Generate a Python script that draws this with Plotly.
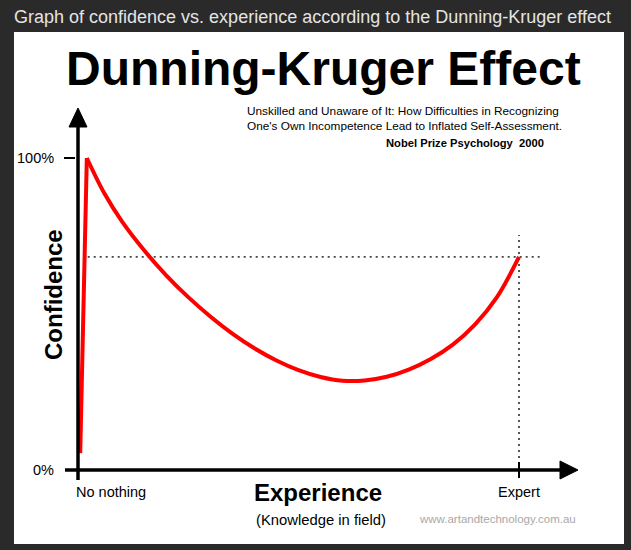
import plotly.graph_objects as go

# ---- data (experience in % of the way to expert, confidence in %) ----
rise_x = [0.5, 2.0]
rise_y = [5.4, 100.0]
curve_x = [2, 6, 10, 15, 20, 25, 30, 35, 40, 45, 50, 55, 60, 65, 70, 75, 80, 85, 90, 95, 100]
curve_y = [100.0, 88.6, 79.6, 70.4, 62.4, 55.4, 49.2, 43.7, 39.0, 35.1, 32.0, 29.8, 28.6,
           28.7, 29.9, 32.2, 35.6, 40.2, 46.6, 55.4, 68.3]
expert_level = 68.3
y_tick_vals = [0, 100]
y_tick_text = ["0%", "100%"]
x_tick_vals = [0, 100]
x_tick_text = ["No nothing", "Expert"]

FONT = "Liberation Sans, Arial, Helvetica, sans-serif"
W, H = 631, 550
ML, MR, MT, MB = 14, 7, 32, 6
PW, PH = W - ML - MR, H - MT - MB
# pixel mapping: x=0 -> px 78, x=100 -> px 519 ; y=0 -> px 470, y=100 -> px 158
XS = (519 - 78) / 100.0
YS = (470 - 158) / 100.0
x0 = -(78 - ML) / XS
x1 = x0 + PW / XS
y0 = -(H - MB - 470) / YS
y1 = y0 + PH / YS

def dx(px):  # pixel offset -> data x
    return px / XS

def dy(px):
    return px / YS

fig = go.Figure()

fig.add_trace(go.Scatter(x=rise_x, y=rise_y, mode="lines",
                         line=dict(color="#ff0000", width=4), hoverinfo="skip"))
fig.add_trace(go.Scatter(x=curve_x, y=curve_y, mode="lines",
                         line=dict(color="#ff0000", width=4, shape="spline", smoothing=1.0),
                         hoverinfo="skip"))

shapes = []
# dotted guides
shapes.append(dict(type="line", x0=2.2, x1=100 + dx(21), y0=expert_level, y1=expert_level,
                   line=dict(color="#444444", width=1.8, dash="2px,4px"), layer="below"))
shapes.append(dict(type="line", x0=100, x1=100, y0=0, y1=expert_level + dy(22),
                   line=dict(color="#444444", width=1.8, dash="2px,4px"), layer="below"))
# axes
shapes.append(dict(type="line", x0=0, x1=0, y0=-dy(10), y1=100 + dy(40),
                   line=dict(color="black", width=3.5)))
shapes.append(dict(type="line", x0=-dx(13), x1=100 + dx(45), y0=0, y1=0,
                   line=dict(color="black", width=3.5)))
# arrowheads
shapes.append(dict(type="path",
                   path=f"M {-dx(9)} {100 + dy(31)} L {dx(9)} {100 + dy(31)} L 0 {100 + dy(50)} Z",
                   fillcolor="black", line=dict(color="black", width=1)))
shapes.append(dict(type="path",
                   path=f"M {100 + dx(41)} {dy(9)} L {100 + dx(41)} {-dy(9)} L {100 + dx(59)} 0 Z",
                   fillcolor="black", line=dict(color="black", width=1)))
# ticks
shapes.append(dict(type="line", x0=-dx(14), x1=-dx(3), y0=100, y1=100,
                   line=dict(color="black", width=2)))
shapes.append(dict(type="line", x0=100, x1=100, y0=-dy(8), y1=dy(8),
                   line=dict(color="black", width=2)))

annotations = []
def ann(text, x, y, size, color="black", xanchor="center", yanchor="middle", bold=False,
        xref="x", yref="y", textangle=0, align="left"):
    if bold:
        text = f"<b>{text}</b>"
    annotations.append(dict(text=text, x=x, y=y, xref=xref, yref=yref, showarrow=False,
                            xanchor=xanchor, yanchor=yanchor, textangle=textangle, align=align,
                            font=dict(family=FONT, size=size, color=color)))

def px_x(px):
    return x0 + (px - ML) / XS

def px_y(py):
    return y0 + (H - MB - py) / YS

# header in the dark band (paper coordinates, outside the plot area)
ann("Graph of confidence vs. experience according to the Dunning-Kruger effect",
    (12 - ML) / PW, (H - MB - 17) / PH, 18, color="#e4e4e4", xanchor="left",
    xref="paper", yref="paper")
ann("Dunning-Kruger Effect", px_x(323), px_y(68), 48, bold=True)
ann("Unskilled and Unaware of It: How Difficulties in Recognizing<br>One's Own Incompetence Lead to Inflated Self-Assessment.",
    px_x(245), px_y(118), 11.8, xanchor="left")
ann("Nobel Prize Psychology  2000", px_x(546), px_y(143), 11.2, bold=True, xanchor="right")
# axis labels
for v, t in zip(y_tick_vals, y_tick_text):
    ann(t, -dx(22), v, 14.5, xanchor="right")
for v, t in zip(x_tick_vals, x_tick_text):
    ann(t, v + (dx(33) if v == 0 else 0), -dy(22), 14.5)
ann("Confidence", px_x(53), px_y(295), 24, bold=True, textangle=-90)
ann("Experience", px_x(318), px_y(492), 24, bold=True)
ann("(Knowledge in field)", px_x(321), px_y(520), 14.8)
ann("www.artandtechnology.com.au", px_x(578), px_y(519), 11.5, color="#a8a8a8", xanchor="right")

fig.update_layout(
    width=W, height=H,
    margin=dict(l=ML, r=MR, t=MT, b=MB, pad=0),
    paper_bgcolor="#2a2a2a", plot_bgcolor="white",
    showlegend=False,
    xaxis=dict(range=[x0, x1], visible=False, fixedrange=True),
    yaxis=dict(range=[y0, y1], visible=False, fixedrange=True),
    shapes=shapes, annotations=annotations,
)

fig.write_html("out.html", post_script="document.body.style.margin='0';",
               config={"displayModeBar": False})
